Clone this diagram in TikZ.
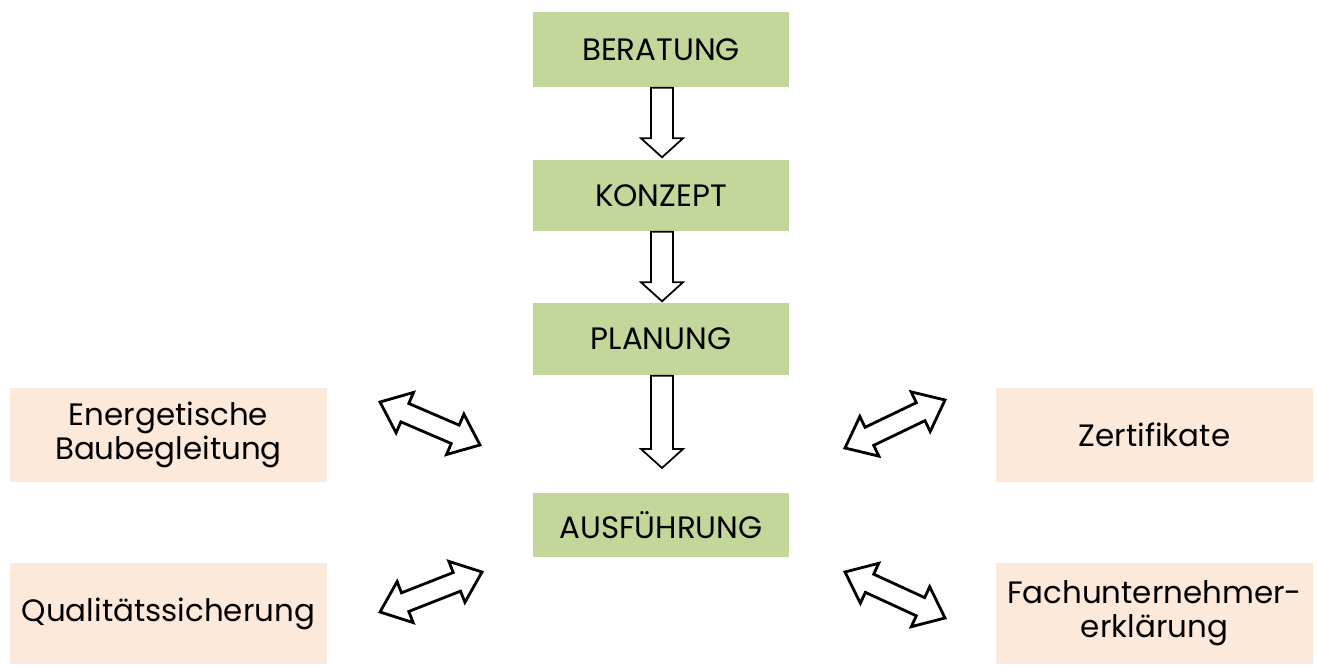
\documentclass[tikz,border=0pt]{standalone}
\usepackage{fontspec}
\setmainfont{Poppins}
\usetikzlibrary{calc}

\definecolor{stepgreen}{HTML}{C4D79B}
\definecolor{sidepeach}{HTML}{FDE9D9}

% vertical block arrow, tail at #1, tip at #2
\newcommand{\flowarrow}[2]{%
  \draw[flowarr] ($(#1)+(-0.11,0)$) -- ($(#2)+(-0.11,0.19)$) -- ($(#2)+(-0.21,0.19)$)
    -- (#2) -- ($(#2)+(0.21,0.19)$) -- ($(#2)+(0.11,0.19)$) -- ($(#1)+(0.11,0)$) -- cycle;}

% block arrow with a head at both ends
\newcommand{\twowayarrow}[2]{%
  \coordinate (h1) at ($(#1)!0.27cm!(#2)$);
  \coordinate (h2) at ($(#2)!0.27cm!(#1)$);
  \draw[twoway] (#1) -- ($(h1)!0.22cm!90:(#2)$) -- ($(h1)!0.10cm!90:(#2)$)
    -- ($(h2)!0.10cm!-90:(#1)$) -- ($(h2)!0.22cm!-90:(#1)$) -- (#2)
    -- ($(h2)!0.22cm!90:(#1)$) -- ($(h2)!0.10cm!90:(#1)$)
    -- ($(h1)!0.10cm!-90:(#2)$) -- ($(h1)!0.22cm!-90:(#2)$) -- cycle;}

\begin{document}
\begin{tikzpicture}[
  font=\fontsize{8.8}{9.8}\selectfont,
  stepbox/.style={fill=stepgreen,minimum width=2.56cm,inner sep=0pt},
  sidebox/.style={fill=sidepeach,minimum width=3.17cm,minimum height=0.94cm,
    inner sep=0pt,align=center},
  flowarr/.style={draw=black,fill=white,line width=0.5pt,line join=miter},
  twoway/.style={draw=black,fill=white,line width=0.8pt,line join=miter}]
\useasboundingbox (0,0) rectangle (13.17,6.64);

% main sequence
\node[stepbox,minimum height=0.75cm]	(ber)	at (6.61,6.145)	{BERATUNG};
\node[stepbox,minimum height=0.71cm]	(kon)	at (6.61,4.685)	{KONZEPT};
\node[stepbox,minimum height=0.72cm]	(pla)	at (6.61,3.25)	{PLANUNG};
\node[stepbox,minimum height=0.64cm]	(aus)	at (6.61,1.39)	{AUSFÜHRUNG};

% side topics
\node[sidebox]			(ebb)	at (1.685,2.29)		{Energetische\\Baubegleitung};
\node[sidebox]			(zer)	at (11.545,2.29)	{Zertifikate};
\node[sidebox,minimum height=1.01cm]	(qs)	at (1.685,0.505)	{Qualitätssicherung};
\node[sidebox,minimum height=1.01cm]	(fue)	at (11.545,0.505)	{Fachunternehmer-\\erklärung};

% arrow ends
\coordinate (t1) at ($(kon.north)+(0.01,0.02)$);
\coordinate (t2) at ($(pla.north)+(0.01,0.01)$);
\coordinate (t3) at (6.62,1.96);
\coordinate (ebl1) at (3.80,2.62);	\coordinate (ebl2) at (4.80,2.19);
\coordinate (qsl1) at (3.80,0.52);	\coordinate (qsl2) at (4.82,0.92);
\coordinate (zer1) at (8.45,2.16);	\coordinate (zer2) at (9.45,2.64);
\coordinate (fue1) at (8.45,0.92);	\coordinate (fue2) at (9.45,0.46);

\flowarrow{$(ber.south)+(0.01,0)$}{t1}
\flowarrow{$(kon.south)+(0.01,0)$}{t2}
\flowarrow{$(pla.south)+(0.01,0)$}{t3}

\twowayarrow{ebl1}{ebl2}
\twowayarrow{qsl1}{qsl2}
\twowayarrow{zer1}{zer2}
\twowayarrow{fue1}{fue2}
\end{tikzpicture}
\end{document}
